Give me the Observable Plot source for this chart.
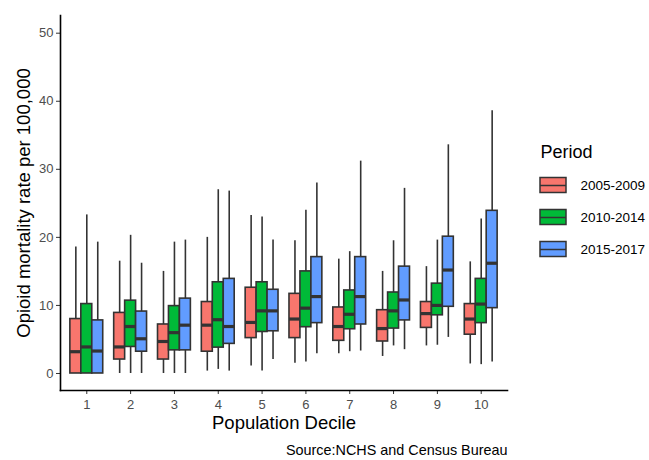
<!DOCTYPE html>
<html>
<head>
<meta charset="utf-8">
<script src="https://cdn.jsdelivr.net/npm/d3@7"></script>
<script src="https://cdn.jsdelivr.net/npm/@observablehq/plot@0.6"></script>
<style>
  html, body { margin: 0; padding: 0; background: #fff; }
  #wrap { position: relative; width: 649px; height: 460px; font-family: "Liberation Sans", Arial, sans-serif; }
  #legend { position: absolute; left: 530px; top: 135px; }
</style>
</head>
<body>
<div id="wrap"><div id="main"></div><div id="legend"></div></div>
<script>
const deciles = [1, 2, 3, 4, 5, 6, 7, 8, 9, 10];
const periods = ["2005-2009", "2010-2014", "2015-2017"];
const colors = ["#F8766D", "#00BA38", "#619CFF"];

// 2005-2009
const lo1  = [0, 0, 0, 0.35, 1.1, 1.5, 2.9, 2.5, 4.05, 1.4];
const q1_1 = [0, 2.05, 2.05, 3.2, 5.2, 5.2, 4.8, 4.7, 6.7, 5.7];
const med1 = [3.2, 3.9, 4.7, 7.1, 7.5, 8.0, 6.9, 6.6, 8.8, 8.0];
const q3_1 = [8.0, 8.9, 7.2, 10.5, 12.6, 11.7, 9.7, 9.3, 10.5, 10.2];
const hi1  = [18.6, 16.5, 15.0, 20.0, 23.2, 19.5, 16.8, 15.0, 15.7, 16.4];
// 2010-2014
const lo2  = [0, 0, 0, 0.6, 0.35, 1.7, 3.2, 4.05, 4.15, 1.3];
const q1_2 = [0, 3.9, 3.4, 3.8, 6.1, 6.8, 6.5, 6.6, 8.55, 7.4];
const med2 = [3.9, 6.9, 6.0, 7.9, 9.2, 9.6, 8.7, 9.2, 10.0, 10.2];
const q3_2 = [10.2, 10.7, 9.9, 13.4, 13.4, 15.0, 12.2, 11.9, 13.2, 13.9];
const hi2  = [23.3, 20.3, 19.3, 27.0, 23.0, 24.0, 17.9, 19.5, 19.6, 22.7];
// 2015-2017
const lo3  = [0, 0, 0, 0.35, 2.05, 2.9, 3.3, 3.5, 5.3, 1.7];
const q1_3 = [0, 3.2, 3.4, 4.35, 6.2, 7.4, 7.2, 7.8, 9.8, 9.6];
const med3 = [3.3, 5.1, 7.1, 6.9, 9.2, 11.3, 11.3, 10.8, 15.2, 16.2];
const q3_3 = [7.8, 9.1, 11.0, 13.9, 12.3, 17.1, 17.1, 15.7, 20.1, 23.9];
const hi3  = [19.3, 16.2, 19.6, 26.8, 19.6, 28.0, 31.2, 27.2, 33.6, 38.6];

const yTicks = [0, 10, 20, 30, 40, 50];

const stats = [
  [lo1, q1_1, med1, q3_1, hi1],
  [lo2, q1_2, med2, q3_2, hi2],
  [lo3, q1_3, med3, q3_3, hi3]
];
const rows = [];
periods.forEach((p, pi) => {
  const [lo, q1, med, q3, hi] = stats[pi];
  deciles.forEach((d, i) => rows.push({decile: d, period: p, pi, lo: lo[i], q1: q1[i], med: med[i], q3: q3[i], hi: hi[i]}));
});

const dodge = 0.25, half = 0.125;
const cx = r => r.decile + (r.pi - 1) * dodge;
const font = "Liberation Sans, Arial, sans-serif";
const boxStroke = "#333333";

const main = Plot.plot({
  width: 649, height: 460,
  marginLeft: 60, marginRight: 142, marginTop: 15, marginBottom: 70,
  style: {fontFamily: font, background: "#fff"},
  x: {type: "linear", domain: [0.4, 10.6]},
  y: {domain: [-2.5, 52.6]},
  color: {domain: periods, range: colors},
  marks: [
    Plot.ruleX(rows, {x: cx, y1: "lo", y2: "hi", stroke: boxStroke, strokeWidth: 1.6}),
    Plot.rect(rows, {x1: r => cx(r) - half, x2: r => cx(r) + half, y1: "q1", y2: "q3", fill: "period", stroke: boxStroke, strokeWidth: 1.6}),
    Plot.ruleY(rows, {x1: r => cx(r) - half, x2: r => cx(r) + half, y: "med", stroke: boxStroke, strokeWidth: 3.2}),
    Plot.axisY({ticks: yTicks, tickSize: 4, tickPadding: 3, fontSize: 13, fill: "#4D4D4D", stroke: "#333", label: null}),
    Plot.axisX({ticks: deciles, tickSize: 4, tickPadding: 5, fontSize: 13, fill: "#4D4D4D", stroke: "#333", label: null, tickFormat: d => d}),
    Plot.frame({anchor: "left", stroke: "#000", strokeWidth: 1.6}),
    Plot.frame({anchor: "bottom", stroke: "#000", strokeWidth: 1.6}),
    Plot.text(["Opioid mortality rate per 100,000"], {frameAnchor: "left", textAnchor: "middle", rotate: -90, dx: -36, fontSize: 18.5, fill: "#000"}),
    Plot.text(["Population Decile"], {frameAnchor: "bottom", textAnchor: "middle", dy: 38, fontSize: 18.5, fill: "#000"}),
    Plot.text(["Source:NCHS and Census Bureau"], {frameAnchor: "bottom-right", textAnchor: "end", dy: 64, fontSize: 14.4, fill: "#000"})
  ]
});
document.getElementById("main").appendChild(main);

const legend = Plot.plot({
  width: 119, height: 130,
  margin: 0,
  style: {fontFamily: font, background: "transparent"},
  x: {type: "linear", domain: [0, 1], range: [10, 36], axis: null},
  y: {type: "band", domain: periods, range: [34, 130], padding: 0, axis: null},
  color: {domain: periods, range: colors},
  marks: [
    Plot.text(["Period"], {frameAnchor: "top-left", dx: 10, dy: 17, lineAnchor: "middle", textAnchor: "start", fontSize: 18, fill: "#000"}),
    Plot.ruleX(periods, {x: 0.5, y: d => d, insetTop: 3, insetBottom: 3, stroke: boxStroke, strokeWidth: 1.5}),
    Plot.rect(periods, {x1: 0, x2: 1, y: d => d, insetTop: 8.5, insetBottom: 8.5, fill: d => d, stroke: boxStroke, strokeWidth: 1.5}),
    Plot.ruleY(periods, {x1: 0, x2: 1, y: d => d, stroke: boxStroke, strokeWidth: 1.5}),
    Plot.text(periods, {x: 1, y: d => d, dx: 14, textAnchor: "start", fontSize: 13.5, fill: "#000"})
  ]
});
document.getElementById("legend").appendChild(legend);
</script>
</body>
</html>
